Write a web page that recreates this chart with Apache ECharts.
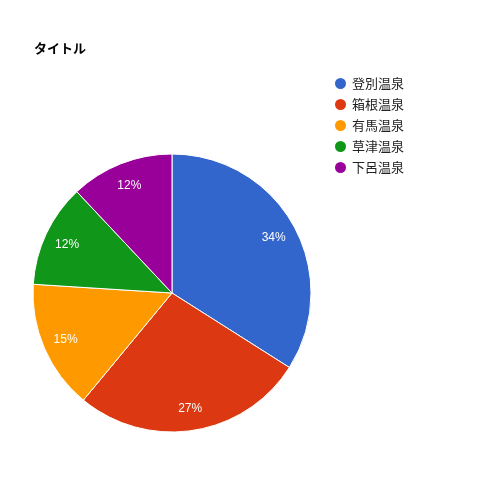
<!DOCTYPE html>
<html>
<head>
    <meta charset="utf-8"/>
    <script src="https://cdn.jsdelivr.net/npm/echarts@6/dist/echarts.min.js"></script>
    <style>
        html, body { margin: 0; padding: 0; background: #fff; }
    </style>
</head>
<body>
<div id="main" style="width: 500px;height:500px;"></div>
<script type="text/javascript">
    // データ
    var names = ['登別温泉', '箱根温泉', '有馬温泉', '草津温泉', '下呂温泉'];
    var values = [34, 27, 15, 12, 12];
    var colors = ['#3366cc', '#dc3912', '#ff9900', '#109618', '#990099'];

    var myChart = echarts.init(document.getElementById('main'));

    var data = names.map(function (n, i) {
        return {name: n, value: values[i]};
    });

    var option = {
        color: colors,
        animation: false,
        title: {
            text: 'タイトル',
            left: 29,
            top: 37,
            textStyle: {
                fontFamily: 'Noto Sans CJK JP',
                fontSize: 13,
                fontWeight: 'bold',
                color: '#000'
            }
        },
        legend: {
            orient: 'vertical',
            left: 328,
            top: 71,
            icon: 'circle',
            itemWidth: 13,
            itemHeight: 13,
            itemGap: 6,
            data: names,
            textStyle: {
                fontFamily: 'Noto Sans CJK JP',
                fontSize: 13,
                color: '#222'
            }
        },
        series: [
            {
                type: 'pie',
                center: [172, 293],
                radius: 139,
                startAngle: 90,
                data: data,
                label: {show: false},
                labelLine: {show: false},
                itemStyle: {borderColor: '#fff', borderWidth: 1}
            },
            {
                // ラベル用の透明な系列
                type: 'pie',
                silent: true,
                center: [172, 294],
                radius: [87, 139],
                startAngle: 90,
                data: data,
                legendHoverLink: false,
                itemStyle: {color: 'rgba(0,0,0,0)'},
                label: {
                    show: true,
                    position: 'inside',
                    formatter: function (p) {
                        return Math.round(p.percent) + '%';
                    },
                    color: '#fff',
                    fontFamily: 'Arial, Liberation Sans',
                    fontSize: 12
                },
                labelLine: {show: false}
            }
        ]
    };

    myChart.setOption(option);
</script>
</body>
</html>
